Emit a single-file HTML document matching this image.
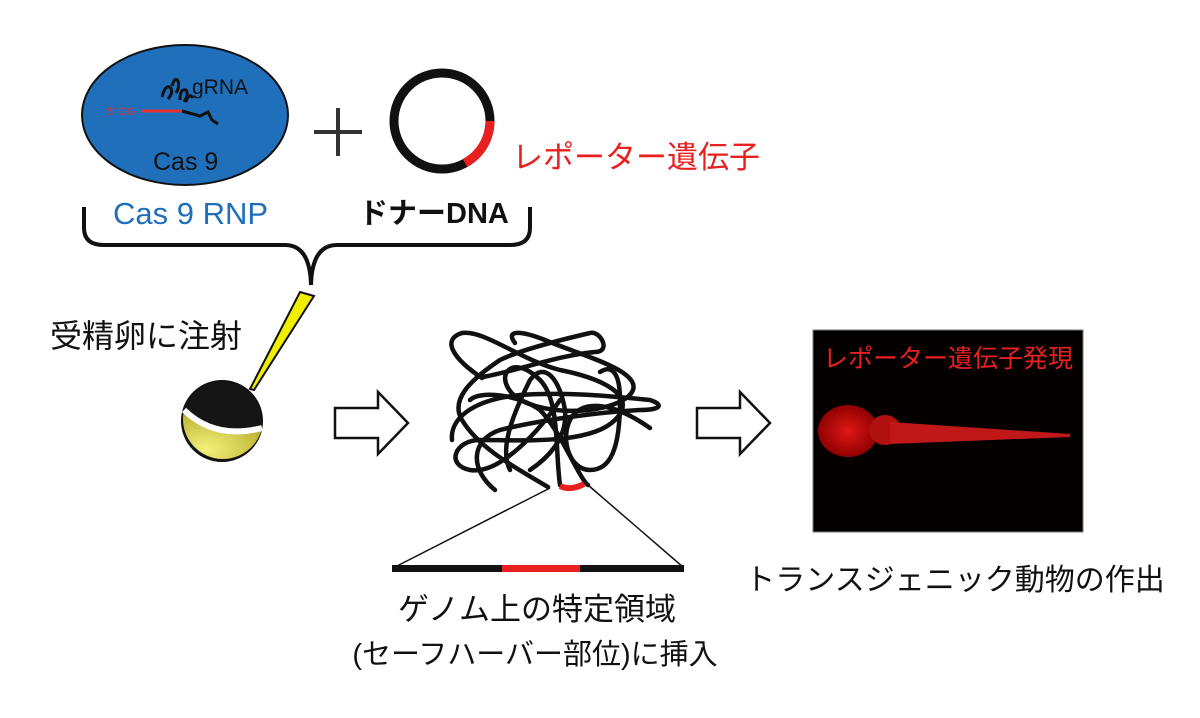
<!DOCTYPE html>
<html><head><meta charset="utf-8"><style>
html,body{margin:0;padding:0;background:#fff;}
svg{display:block;}
text{font-family:"Liberation Sans","Noto Sans CJK JP",sans-serif;}
</style></head><body>
<svg width="1200" height="718" viewBox="0 0 1200 718" xmlns="http://www.w3.org/2000/svg">
<defs>
<radialGradient id="yel" cx="0.3" cy="0.8" r="0.8"><stop offset="0" stop-color="#f4f07a"/><stop offset="1" stop-color="#b8b030"/></radialGradient>
<radialGradient id="fish" cx="0.5" cy="0.5" r="0.5"><stop offset="0" stop-color="#e01818"/><stop offset="1" stop-color="#900000"/></radialGradient>
</defs>
<ellipse cx="185" cy="115" rx="103" ry="70" fill="#1f6fbb" stroke="#111" stroke-width="2"/>
<line x1="141" y1="111" x2="182" y2="111" stroke="#e53030" stroke-width="3"/>
<text x="107" y="115" font-size="11" fill="#e53030">5' GG</text>
<path d="M182 111 L200 116 L208 112 L212 120 L218 124" stroke="#111" stroke-width="3" fill="none"/>
<path d="M162 97 q3 -12 8 -10 q4 5 -2 12 M172 86 q3 -10 6 -5 q2 6 -2 12 M180 100 q0 -12 6 -10 q3 4 -2 12 M186 102 q3 -10 7 -4" stroke="#111" stroke-width="3" fill="none"/>
<text x="192" y="94" font-size="21" fill="#111">gRNA</text>
<text x="153" y="170" font-size="25" fill="#111">Cas 9</text>
<path d="M338 108 V156 M314 132 H362" stroke="#333" stroke-width="4"/>
<circle cx="442" cy="121" r="48" fill="none" stroke="#111" stroke-width="9"/>
<path d="M490 121 A48 48 0 0 1 465 163" fill="none" stroke="#e82020" stroke-width="9"/>
<text x="512" y="168" font-size="31" fill="#e82020">レポーター遺伝子</text>
<text x="113" y="224" font-size="31" fill="#1f6fbb">Cas 9 RNP</text>
<text x="359" y="223" font-size="29" font-weight="bold" fill="#111">ドナーDNA</text>
<path d="M84 207 V228 Q84 245 104 245 H285 Q310 245 311 285 Q312 245 337 245 H510 Q530 245 530 228 V207" fill="none" stroke="#111" stroke-width="4"/>
<text x="50" y="347" font-size="32" fill="#111">受精卵に注射</text>
<path d="M300 292 L314 296 L254 390 L250 389 Z" fill="#f2ee00" stroke="#111" stroke-width="2"/>
<circle cx="222" cy="421" r="40" fill="#151515" stroke="#111" stroke-width="2"/>
<path d="M184 410 Q215 445 262 428 A40 40 0 0 1 184 410 Z" fill="url(#yel)"/>
<path d="M184 410 Q215 440 262 428" fill="none" stroke="#fff" stroke-width="6"/>
<path d="M335 408 H378 V392 L408 423 L378 454 V438 H335 Z" fill="#fff" stroke="#111" stroke-width="2.5"/>
<path d="M697 408 H740 V392 L770 423 L740 454 V438 H697 Z" fill="#fff" stroke="#111" stroke-width="2.5"/>
<g fill="none" stroke="#111" stroke-width="4.5" stroke-linecap="round">
<path d="M482 378 C455 360 440 340 462 333 C485 330 520 360 560 370 C600 378 640 395 615 420 C590 445 520 440 480 440 C455 440 445 465 470 470 C500 475 540 430 560 400"/>
<path d="M483 377 C520 370 560 355 595 352 C612 352 600 330 590 333 C560 340 520 350 500 360 C470 380 450 400 462 420 C480 450 520 470 548 487"/>
<path d="M515 343 C505 330 520 330 545 340 C580 355 640 370 633 390 C625 410 560 420 520 400 C490 380 510 350 540 380 C560 400 555 450 560 485"/>
<path d="M600 372 C610 365 620 370 620 400 C620 450 610 470 590 470 C570 470 560 440 570 420 C580 400 610 400 650 428"/>
<path d="M452 440 C450 420 470 400 520 395 C560 392 600 395 650 400 C665 405 660 410 640 410 C600 412 540 420 500 430 C470 440 470 470 495 490"/>
<path d="M470 400 C480 390 520 395 540 410 C560 430 580 480 588 485"/>
<path d="M510 470 C500 450 510 420 530 380 C545 360 560 380 565 410 C568 440 545 460 530 470"/>
</g>
<path d="M560 486 Q571 491 584 484" fill="none" stroke="#e82020" stroke-width="6"/>
<line x1="550" y1="488" x2="395" y2="567" stroke="#111" stroke-width="1.5"/>
<line x1="588" y1="485" x2="683" y2="567" stroke="#111" stroke-width="1.5"/>
<rect x="392" y="565" width="292" height="7" fill="#111"/>
<rect x="502" y="565" width="78" height="7" fill="#e82020"/>
<text x="537" y="620" font-size="31" fill="#111" text-anchor="middle">ゲノム上の特定領域</text>
<text x="535" y="664" font-size="29" fill="#111" text-anchor="middle">(セーフハーバー部位)に挿入</text>
<rect x="813" y="330" width="270" height="202" fill="#050000" stroke="#777" stroke-width="1"/>
<text x="948" y="367" font-size="25" fill="#e82020" text-anchor="middle">レポーター遺伝子発現</text>
<ellipse cx="848" cy="431" rx="30" ry="26" fill="url(#fish)"/>
<ellipse cx="885" cy="430" rx="16" ry="15" fill="#b01010"/>
<path d="M890 422 L1070 434 L1070 437 L890 444 Z" fill="#c01818"/>
<text x="955" y="590" font-size="30" fill="#111" text-anchor="middle">トランスジェニック動物の作出</text>
</svg>
</body></html>
